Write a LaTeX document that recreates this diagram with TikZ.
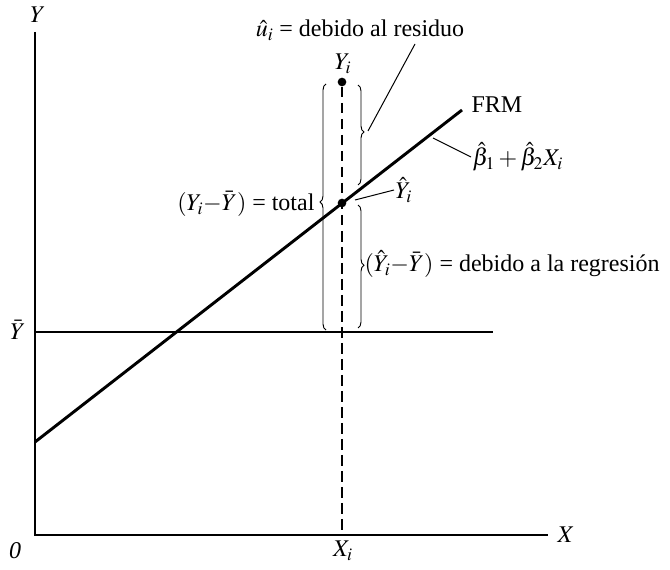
\documentclass[tikz,border=0pt]{standalone}
\usepackage{mathptmx}
\usepackage{fontspec}
\setmainfont{Liberation Serif}
\usetikzlibrary{decorations.pathreplacing}

\tikzset{every picture/.style={line width=0.75pt}}

\begin{document}
\begin{tikzpicture}[x=0.75pt,y=0.75pt,yscale=-1,xscale=1,
	every node/.style={inner sep=0.75pt,font=\fontsize{18}{21}\selectfont},
	thinline/.style={line width=0.9pt},
	regline/.style={line width=2.2pt},
	guide/.style={line width=1.1pt,dash pattern={on 8pt off 4pt}},
	leader/.style={line width=0.75pt},
	dot/.style={circle,fill,inner sep=0pt,minimum size=6.5pt},
	curly/.style={decorate,decoration={brace,amplitude=4.5pt},line width=0.7pt}]
	\useasboundingbox (0,0) rectangle (670,570);
	
	%Points
	\coordinate (O) at (35,535);
	\coordinate (Ytop) at (35,32);
	\coordinate (Xend) at (548,535);
	\coordinate (Ybl) at (35,332);
	\coordinate (Ybr) at (493,332);
	\coordinate (Rs) at (35,442);
	\coordinate (Re) at (462,110);
	\coordinate (Xi) at (342,535);
	\coordinate (Bres) at (368,131);
	\coordinate (Lres) at (415,44);
	\coordinate (Lyh) at (355,200);
	\coordinate (Lbeta) at (433,138);
	
	%Straight Lines 
	\draw [thinline] (Ytop) -- (O) -- (Xend) ;
	%Straight Lines 
	\draw [thinline] (Ybl) -- (Ybr) ;
	%Straight Lines 
	\draw [regline] (Rs) -- (Re) ;
	%Shape: Circle 
	\node [dot] (Yi) at (342,82) {};
	%Shape: Circle 
	\node [dot] (Yh) at (342,203) {};
	%Straight Lines 
	\draw [guide] (Yi) -- (Xi) ;
	
	%Shape: Brace 
	\draw [curly,decoration={aspect=0.52}] (326,330) -- (326,84) ;
	%Shape: Brace 
	\draw [curly,decoration={aspect=0.47}] (358,85) -- (358,185) ;
	%Shape: Brace 
	\draw [curly,decoration={aspect=0.49}] (358,205) -- (358,328) ;
	
	% Text Node
	\node (res) at (360,30) {$\hat{u}_i$ = debido al residuo};
	% Text Node
	\node (yi) at (343,64) {$Y_i$};
	% Text Node
	\node (frm) [anchor=west] at (470,105) {FRM};
	% Text Node
	\node (beta) [anchor=west] at (471,157) {$\hat{\beta}_1 + \hat{\beta}_2X_i$};
	% Text Node
	\node (yhat) [anchor=west] at (394,190) {$\hat{Y}_i$};
	% Text Node
	\node (tot) [anchor=east] at (316,204) {$(Y_i{-}\bar{Y})$ = total};
	% Text Node
	\node (reg) [anchor=west] at (363,264) {$(\hat{Y}_i{-}\bar{Y})$ = debido a la regresión};
	% Text Node
	\node (ylab) at (38,15) {$Y$};
	% Text Node
	\node (xlab) at (566,535) {$X$};
	% Text Node
	\node (olab) at (15,551) {\textit{0}};
	% Text Node
	\node (xilab) at (343,551) {$X_i$};
	% Text Node
	\node (ybarlab) at (18,330) {$\bar{Y}$};
	
	%Straight Lines 
	\draw [leader] (Lres) -- (Bres) ;
	%Straight Lines 
	\draw [leader] (Lyh) -- (yhat.west) ;
	%Straight Lines 
	\draw [leader] (Lbeta) -- (beta.west) ;
	
\end{tikzpicture}
\end{document}
